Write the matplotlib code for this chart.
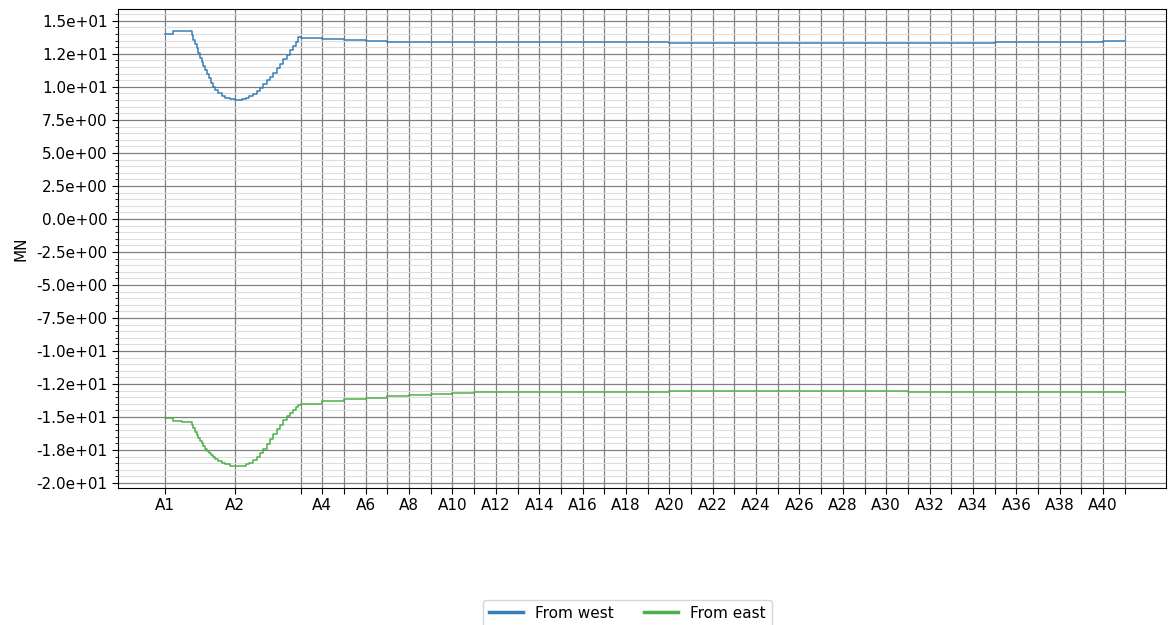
import matplotlib
matplotlib.use("Agg")
import matplotlib.pyplot as plt
from matplotlib.ticker import MultipleLocator, FuncFormatter
from matplotlib.lines import Line2D

# Station names and their chainage along the alignment
stations = [f"A{i}" for i in range(1, 42)]
station_chainage = [
    0.0, 3.227, 6.25, 7.25, 8.25, 9.25, 10.25, 11.25, 12.25, 13.25,
    14.25, 15.25, 16.25, 17.25, 18.25, 19.25, 20.25, 21.25, 22.25, 23.25,
    24.25, 25.25, 26.25, 27.25, 28.25, 29.25, 30.25, 31.25, 32.25, 33.25,
    34.25, 35.25, 36.25, 37.25, 38.25, 39.25, 40.25, 41.25, 42.25, 43.25,
    44.25,
]

# Fine sections between A1 and A3 (section start chainage)
fine_chainage = [
    0.000, 0.355, 0.770,
    1.231, 1.305, 1.369, 1.462, 1.535, 1.614, 1.692, 1.766, 1.844,
    1.923, 2.015, 2.107, 2.199, 2.305, 2.457, 2.614, 2.766, 2.997,
    3.227,
    3.536, 3.734, 3.887, 4.071, 4.228, 4.380, 4.532, 4.689, 4.841,
    4.993, 5.150, 5.302, 5.454, 5.611, 5.763, 5.915, 6.026, 6.146,
]

# Force from west on the fine sections (MN)
west_fine = [
    13.99, 14.22, 14.27,
    13.94, 13.56, 13.23, 12.93, 12.55, 12.22, 11.92, 11.61, 11.29,
    10.96, 10.66, 10.28, 10.02, 9.77, 9.52, 9.34, 9.19, 9.09,
    9.04,
    9.09, 9.19, 9.32, 9.49, 9.70, 9.95, 10.20, 10.51, 10.78,
    11.08, 11.42, 11.74, 12.10, 12.42, 12.78, 13.13, 13.43, 13.79,
]

# Force from east on the fine sections (MN)
east_fine = [
    -15.05, -15.30, -15.40,
    -15.61, -15.86, -16.11, -16.34, -16.57, -16.80, -16.99, -17.20, -17.40,
    -17.58, -17.75, -17.90, -18.05, -18.20, -18.36, -18.48, -18.58, -18.69,
    -18.73,
    -18.69, -18.58, -18.46, -18.28, -18.05, -17.75, -17.42, -17.07, -16.69,
    -16.31, -15.93, -15.58, -15.23, -14.92, -14.67, -14.47, -14.27, -14.09,
]

# Force per span, from A3 up to A41 (one value per span A3-A4 ... A40-A41)
west_span = [
    13.72, 13.60, 13.52, 13.45, 13.40, 13.38, 13.38, 13.38, 13.38, 13.38,
    13.38, 13.38, 13.38, 13.38, 13.38, 13.38, 13.38, 13.35, 13.35, 13.35,
    13.35, 13.35, 13.35, 13.35, 13.31, 13.31, 13.31, 13.31, 13.34, 13.34,
    13.34, 13.34, 13.37, 13.37, 13.37, 13.41, 13.41, 13.44,
]
east_span = [
    -14.02, -13.81, -13.66, -13.54, -13.43, -13.33, -13.26, -13.18, -13.13, -13.13,
    -13.13, -13.13, -13.13, -13.08, -13.08, -13.08, -13.08, -13.03, -13.03, -13.03,
    -13.03, -13.03, -13.03, -13.03, -13.05, -13.05, -13.05, -13.05, -13.08, -13.08,
    -13.08, -13.08, -13.10, -13.10, -13.10, -13.10, -13.13, -13.13,
]

series_names = ["From west", "From east"]
series_colors = ["#377eb8", "#4daf4a"]

# Full step profiles: fine sections, then spans, closed at the last station
x_all = fine_chainage + station_chainage[2:]
west_all = west_fine + west_span + [west_span[-1]]
east_all = east_fine + east_span + [east_span[-1]]

FS = 11

fig = plt.figure(figsize=(11.68, 6.25), dpi=100)
ax = fig.add_axes([118 / 1168, 1 - 488 / 625, (1166 - 118) / 1168, (488 - 9) / 625])

ax.plot(x_all, west_all, drawstyle="steps-post", color=series_colors[0], lw=1.1, zorder=3)
ax.plot(x_all, east_all, drawstyle="steps-post", color=series_colors[1], lw=1.1, zorder=3)

ax.set_xlim(-2.17, 46.15)
ax.set_ylim(-20.38, 15.9)

# x ticks at every station, labels on a subset
labels = [n if (i < 2 or int(n[1:]) % 2 == 0) else "" for i, n in enumerate(stations)]
ax.set_xticks(station_chainage)
ax.set_xticklabels(labels, fontsize=FS)

ax.yaxis.set_major_locator(MultipleLocator(2.5))
ax.yaxis.set_minor_locator(MultipleLocator(0.5))
ax.yaxis.set_major_formatter(FuncFormatter(lambda v, pos: "%.1e" % v))
ax.tick_params(axis="y", which="major", labelsize=FS, length=4)
ax.tick_params(axis="y", which="minor", length=2)
ax.tick_params(axis="x", which="major", length=4)

ax.grid(True, which="major", axis="both", color="#808080", lw=0.9, zorder=0)
ax.grid(True, which="minor", axis="y", color="#dddddd", lw=0.8, zorder=0)
ax.set_axisbelow(True)

ax.set_ylabel("MN", fontsize=FS, labelpad=6)

handles = [Line2D([], [], color=c, lw=2.5) for c in series_colors]
fig.legend(handles, series_names, loc="upper center",
           bbox_to_anchor=(627.5 / 1168, 1 - 599.5 / 625), bbox_transform=fig.transFigure,
           borderaxespad=0.0, ncol=2, fontsize=FS, frameon=True,
           handlelength=2.2, columnspacing=2.0)

fig.savefig("out.png", dpi=100)
